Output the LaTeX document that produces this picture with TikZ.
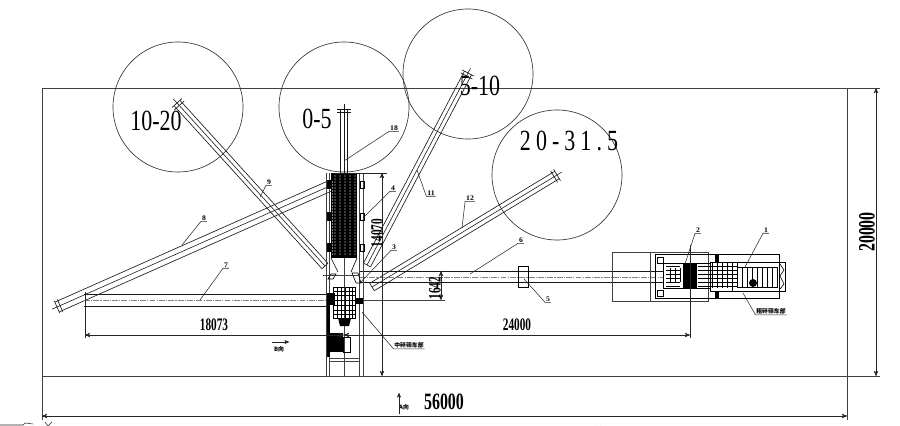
\documentclass[tikz,border=0pt]{standalone}
\usepackage{fontspec}
\setmainfont{Liberation Serif}
\newfontfamily\cjk{Noto Sans CJK SC}
\usetikzlibrary{arrows,calc}

\newcommand{\belt}[4][beltaxis]{
  \draw[beltline] ($(#2)!#4!90:(#3)$) -- ($(#3)!#4!-90:(#2)$);
  \draw[beltline] ($(#2)!#4!-90:(#3)$) -- ($(#3)!#4!90:(#2)$);
  \draw[#1] ($(#2)!-.16cm!(#3)$) -- (#3);
  \coordinate (headbar) at ($(#2)!.1cm!(#3)$);
  \draw[beltline] ($(#2)!.2cm!90:(#3)$) -- ($(#2)!.2cm!-90:(#3)$);
  \draw[beltline] ($(headbar)!.2cm!90:(#3)$) -- ($(headbar)!.2cm!-90:(#3)$);
  \draw[beltline] ($(#3)!#4!90:(#2)$) -- ($(#3)!#4!-90:(#2)$);
}

\begin{document}
\begin{tikzpicture}
  [x=0.03cm,y=-0.03cm,>=stealth',
  frameline/.style={draw=black!75,line width=.7pt},
  beltline/.style={draw=black!90,line width=.55pt},
  beltaxis/.style={draw=black!90,line width=.5pt},
  beltdash/.style={draw=black!50,line width=.6pt,dash pattern=on 5pt off 1pt on 1pt off 1pt},
  part/.style={draw=black,line width=.55pt},
  dimline/.style={draw=black!85,line width=.6pt},
  leader/.style={draw=black!85,line width=.45pt},
  pile/.style={circle,draw=black!80,line width=.55pt,minimum size=3.9cm,inner sep=0pt},
  range text/.style={font=\fontsize{25}{25}\selectfont,xscale=.75,inner sep=0pt},
  dim text/.style={font=\fontsize{15}{15}\selectfont\bfseries,xscale=.64,inner sep=0pt},
  size text/.style={font=\fontsize{20}{20}\selectfont\bfseries,xscale=.68,inner sep=0pt},
  part no/.style={font=\fontsize{6}{6}\selectfont\bfseries,inner sep=.6pt,xscale=1.1},
  part name/.style={font=\cjk\fontsize{5}{5}\selectfont\bfseries,inner sep=.6pt}]
  \useasboundingbox (0,0) rectangle (900,426);

  % frame
  \draw[frameline] (42,88) -- (880,88);
  \draw[frameline] (42,376) -- (880,376);
  \draw[frameline] (42,88) -- (42,420);
  \draw[frameline] (847,88) -- (847,420);
  \coordinate (size l) at (42,416);
  \coordinate (size r) at (847,416);
  \coordinate (size t) at (876,88);
  \coordinate (size b) at (876,376);
  \draw[dimline,<->] (size l) -- (size r);
  \draw[dimline,<->] (size t) -- (size b);
  \node[size text] (size width) at (444,402) {56000};
  \node[rotate=90,size text] (size height) at (867,232) {20000};

  % stockpiles
  \node[pile] (pile a) at (178,107) {};
  \node[pile] (pile b) at (344,107) {};
  \node[pile] (pile c) at (468,74) {};
  \node[pile] (pile d) at (557,175) {};
  \node[range text] (range a) at (156,121) {10-20};
  \node[range text] (range b) at (317,119) {0-5};
  \node[range text] (range c) at (480,86) {5-10};
  \node[range text] (range d) at (569,141) {\addfontfeature{LetterSpace=23}20-31.5};

  % conveyors
  \coordinate (head a) at (177,103);
  \coordinate (tail a) at (325,266);
  \coordinate (head b) at (344,109);
  \coordinate (tail b) at (344,173);
  \coordinate (head c) at (468,73);
  \coordinate (tail c) at (367,265);
  \coordinate (head d) at (557,175);
  \coordinate (tail d) at (372,287);
  \coordinate (head e) at (57,307);
  \coordinate (tail e) at (332,185);
  \belt{head a}{tail a}{.12cm}
  \belt{head b}{tail b}{.11cm}
  \belt{head c}{tail c}{.12cm}
  \belt{head d}{tail d}{.13cm}
  \belt{head e}{tail e}{.16cm}
  \draw[beltline] (84,294) -- (330,294);
  \draw[beltline] (84,306) -- (330,306);
  \draw[beltdash] (84,300) -- (330,300);
  \draw[beltline] (360,271) -- (663,271);
  \draw[beltline] (360,282) -- (663,282);
  \draw[beltdash] (360,277) -- (663,277);
  \node[part,minimum width=.3cm,minimum height=.63cm,inner sep=0pt] (tripper) at (523,276.5) {};

  % screen tower
  \draw[frameline] (326,173) -- (326,376);
  \draw[frameline] (329,173) -- (329,376);
  \draw[frameline] (359,173) -- (359,376);
  \draw[frameline] (363,173) -- (363,376);
  \draw[frameline] (344,173) -- (344,376);
  \fill[black] (331,173) rectangle (357,258);
  \foreach \x in {335,340,...,356}
    \foreach \y in {176,179,...,256}
      \fill[white] (\x,\y) circle (.55);
  \foreach \y in {182,185,...,256}
    \fill[white] (332.5,\y) circle (.6);
  \foreach \y in {180,212,243}{
    \fill[black] (327,\y) rectangle (332,\y+9);
    \draw[part] (360,\y+1) rectangle (364,\y+8);
  }
  \draw[part] (331,258) -- (338,272) (357,258) -- (351,272);
  \draw[part] (328,279) -- (331,274) -- (336,274) -- (333,279) -- cycle;
  \draw[part] (352,273) -- (358,273) -- (361,283) -- (356,283) -- cycle;
  \draw[frameline] (323,275) -- (360,275);
  \draw[frameline] (330,300) -- (445,300);
  \draw[frameline] (329,358) -- (359,358);
  \draw[frameline] (329,361) -- (359,361);

  % secondary crusher
  \fill[black] (327,293) rectangle (335,305);
  \fill[black] (327,305) rectangle (330,357);
  \fill[black] (330,333) rectangle (343,352);
  \draw[part] (343,337) rectangle (350,352);
  \draw[part] (333,287) rectangle (355,318);
  \foreach \x in {337,341,345,349,352}
    \draw[part] (\x,287) -- (\x,318);
  \foreach \y in {291,295,300,305,310,314}
    \draw[part] (333,\y) -- (355,\y);
  \fill[black] (338,318) -- (351,318) -- (349,326) -- (340,326) -- cycle;
  \fill[black] (355,298) rectangle (363,304);

  % primary machine
  \draw[frameline] (612,252) rectangle (708,301);
  \draw[frameline] (650,252) -- (650,301);
  \draw[part] (655,254) rectangle (779,298);
  \draw[part] (710,262) rectangle (785,291);
  \draw[part] (732,262) -- (732,291);
  \draw[part] (663,263) rectangle (710,288);
  \draw[part] (657,257) rectangle (663,263);
  \draw[part] (657,290) rectangle (663,296);
  \fill[black] (683,263) rectangle (697,288);
  \fill[black] (715,254) rectangle (719,262);
  \fill[black] (715,291) rectangle (719,298);
  \fill[black] (753,283) circle (4);
  \foreach \y in {266,270,274,278,282,286}
    \draw[part] (666,\y) -- (680,\y) (698,\y) -- (737,\y);
  \foreach \x in {670,675,680}
    \draw[part] (\x,268) -- (\x,282);
  \foreach \x in {712,717,722,727,732,737}
    \draw[part] (\x,263) -- (\x,288);
  \draw[part] (737,267) rectangle (777,287);
  \foreach \x in {742,747,752,757,762,767,772}
    \draw[part] (\x,267) -- (\x,287);
  \draw[part] (780,264) -- (784,270) -- (780,276) -- (784,284) -- (780,289);

  % dimensions
  \coordinate (dim a) at (85,335);
  \coordinate (dim b) at (344,335);
  \coordinate (dim c) at (690,335);
  \draw[dimline] (85,292) -- (85,338);
  \draw[dimline] (690,245) -- (690,338);
  \draw[dimline,<->] (dim a) -- (dim b);
  \draw[dimline,<->] (dim b) -- (dim c);
  \node[dim text] (len left) at (214,325) {18073};
  \node[dim text] (len right) at (517,325) {24000};
  \draw[dimline] (335,173) -- (387,173);
  \coordinate (tower t) at (382,173);
  \coordinate (tower b) at (382,376);
  \draw[dimline,<->] (tower t) -- (tower b);
  \node[rotate=90,dim text] (len tower) at (377,233) {14070};
  \coordinate (gap t) at (441,271);
  \coordinate (gap b) at (441,300);
  \draw[dimline,<->] (gap t) -- (gap b);
  \node[rotate=90,dim text] (len gap) at (435,288) {1642};

  % part labels
  \foreach \name/\txt/\px/\py/\tx/\ty in {
    no1/1/766/230/745/267,
    no2/2/698/230/685/264,
    no3/3/394/247/360/283,
    no4/4/393/188/363/218,
    no5/5/548/299/524/279,
    no6/6/521/240/470/274,
    no7/7/226/265/200/300,
    no8/8/204/218/182/245,
    no9/9/269/182/260/197,
    no10/18/394/128/344/161,
    no11/11/431/193/417/170,
    no12/12/470/198/462/228}{
    \node[part no] (\name) at (\px,\py) {\txt};
    \coordinate (\name t) at (\tx,\ty);
    \draw[leader] (\name.south east) -- (\name.south west) -- (\name t);
  }
  \node[part name] (name a) at (771,311) {粗碎筛车部};
  \coordinate (name a t) at (743,293);
  \draw[leader] (name a.south east) -- (name a.south west) -- (name a t);
  \node[part name] (name b) at (409,345) {中碎筛车部};
  \coordinate (name b t) at (362,312);
  \draw[leader] (name b.south east) -- (name b.south west) -- (name b t);

  % view arrows
  \node[part name] (view b) at (279,349) {B向};
  \coordinate (view b l) at (272,342);
  \coordinate (view b r) at (289,342);
  \draw[leader,->] (view b l) -- (view b r);
  \node[part name] (view a) at (404,407) {A向};
  \coordinate (view a b) at (399,414);
  \coordinate (view a t) at (399,393);
  \draw[leader,->] (view a b) -- (view a t);

  % cut off marks at the lower edge
  \draw[leader] (0,425) -- (23,425) -- (25,423) -- (33,424);
  \draw[leader] (45,422) -- (48,426) -- (52,422);
  \draw[leader] (596,426) arc (180:0:2.5);
\end{tikzpicture}
\end{document}
